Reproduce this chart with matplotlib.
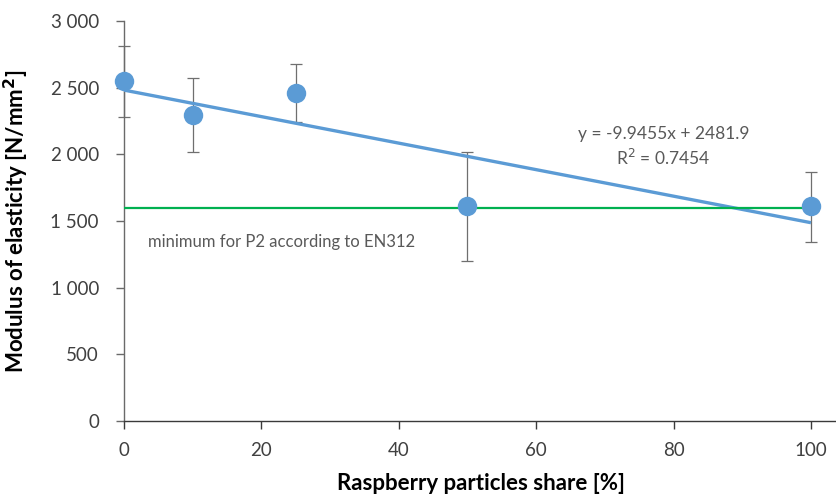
import numpy as np
import matplotlib
matplotlib.use("Agg")
import matplotlib.pyplot as plt
from matplotlib.ticker import FuncFormatter

plt.rcParams['font.family'] = ['Lato', 'DejaVu Sans']

# Raspberry particle share [%] and modulus of elasticity [N/mm2]
share = [0, 10, 25, 50, 100]
moe = [2551, 2297, 2461, 1615, 1615]
err_low = [2277, 2015, 2246, 1200, 1339]
err_high = [2815, 2575, 2681, 2018, 1864]

# Linear trend reported on the chart
slope = -9.9455
intercept = 2481.9
r2 = 0.7454

# EN312 minimum requirement for P2 boards
en312_min = 1600

x_ticks = [0, 20, 40, 60, 80, 100]
y_ticks = [0, 500, 1000, 1500, 2000, 2500, 3000]

blue = '#5B9BD5'
green = '#00B050'
grey = '#595959'

fig = plt.figure(figsize=(8.37, 4.99), dpi=100)
ax = fig.add_axes([0.1481, 0.1563, 0.852, 0.8016])

yerr = [np.array(moe) - np.array(err_low), np.array(err_high) - np.array(moe)]
ax.errorbar(share, moe, yerr=yerr, fmt='none', ecolor='#6f6f6f',
            elinewidth=0.9, capsize=4, capthick=0.9, zorder=2, clip_on=False)

xt = np.array([min(share), max(share)])
ax.plot(xt, slope * xt + intercept, color=blue, lw=2.4, zorder=3,
        solid_capstyle='butt')
ax.plot(xt, [en312_min, en312_min], color=green, lw=1.6, zorder=3)

ax.plot(share, moe, 'o', color=blue, markersize=14, zorder=4,
        markeredgewidth=0, clip_on=False)

ax.text(3.5, 1340, 'minimum for P2 according to EN312', fontsize=12,
        color=grey, va='center', ha='left')
ax.text(78.5, 2155, f'y = {slope}x + {intercept}', fontsize=12.5,
        color=grey, ha='center', va='center')
ax.text(78.5, 1975, f'R$^2$ = {r2}', fontsize=12.5,
        color=grey, ha='center', va='center')

ax.set_xlim(0, 103.8)
ax.set_ylim(0, 3000)
ax.set_xticks(x_ticks)
ax.set_yticks(y_ticks)
ax.yaxis.set_major_formatter(FuncFormatter(lambda v, p: f'{int(v):,}'.replace(',', ' ')))

for s in ['top', 'right']:
    ax.spines[s].set_visible(False)
ax.spines['left'].set_color('#6a6a6a')
ax.spines['bottom'].set_color('#3a3a3a')
for s in ['left', 'bottom']:
    ax.spines[s].set_linewidth(1.0)

ax.tick_params(axis='y', colors='#6a6a6a', length=6, width=1.0,
               direction='out', pad=12)
ax.tick_params(axis='x', colors='#3a3a3a', length=6, width=1.0,
               direction='out', pad=9)
ax.tick_params(axis='both', labelsize=13.5, labelcolor='#404040')

ax.set_xlabel('Raspberry particles share [%]', fontsize=16,
              fontweight='bold', labelpad=10)
ax.set_ylabel('Modulus of elasticity [N/mm$^\\mathbf{2}$]', fontsize=16,
              fontweight='bold', labelpad=14)

fig.savefig('out.png', dpi=100)
